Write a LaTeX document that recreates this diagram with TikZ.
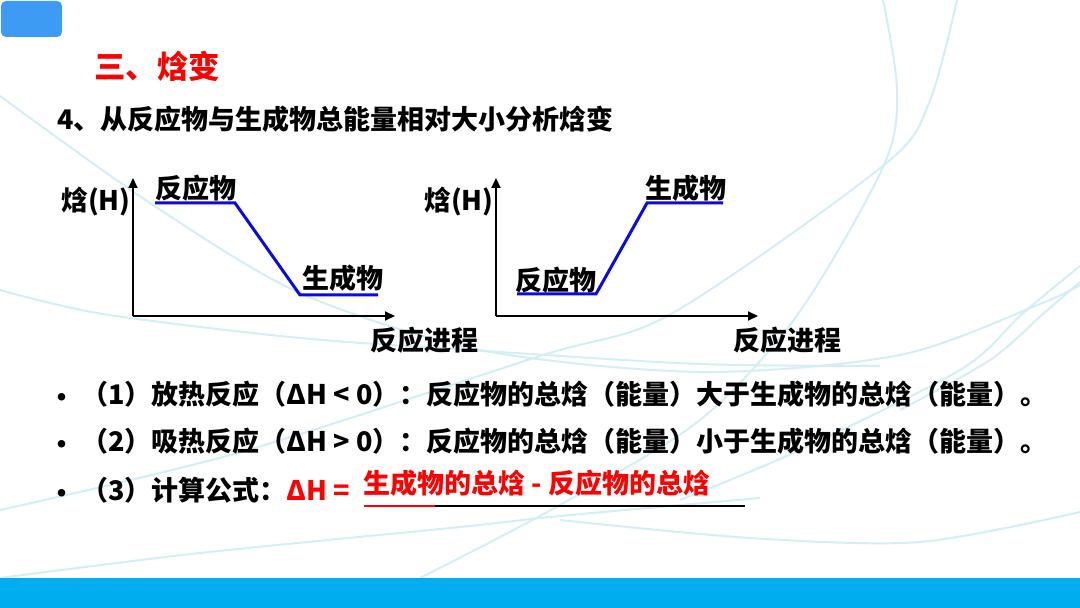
\documentclass[tikz,border=0pt]{standalone}
\usepackage{fontspec}
\setmainfont{Noto Sans CJK SC}
\usepackage{tikz}
\usetikzlibrary{arrows.meta, positioning}

\definecolor{tabblue}{HTML}{3D9BF3}
\definecolor{barblue}{HTML}{00AEEF}
\definecolor{arcline}{HTML}{D4EEF6}
\definecolor{levelblue}{HTML}{0A0AE6}

\begin{document}
\begin{tikzpicture}[
      x=0.5pt, y=-0.5pt,
      txt/.style={font=\fontsize{13.5}{16}\selectfont\bfseries, inner sep=0pt},
      ttl/.style={font=\fontsize{15.75}{19}\selectfont\bfseries, text=red, inner sep=0pt},
      level/.style={levelblue, line width=1.5pt},
      axis/.style={black, line width=1pt, -{Triangle[length=5pt, width=4.5pt]}},
      bg_arc/.style={arcline, line width=1pt}
  ]

  % 1. Sfondo
  \useasboundingbox (0, 0) rectangle (1080, 608);
  \fill[white] (0, 0) rectangle (1080, 608);

  % 2. Archi decorativi
  \draw[bg_arc] plot[smooth] coordinates {(883, 0) (897, 90) (884, 165) (798, 314) (700, 420) (560, 505) (420, 578)};
  \draw[bg_arc] plot[smooth] coordinates {(957, 0) (929, 103) (884, 165) (671, 314) (540, 356) (241, 452) (0, 510)};
  \draw[bg_arc] plot[smooth] coordinates {(0, 96) (150, 203) (300, 293) (480, 350) (700, 372) (900, 355) (1040, 304) (1080, 285)};
  \draw[bg_arc] plot[smooth] coordinates {(0, 290) (103, 314) (300, 338) (500, 352) (700, 364) (880, 366)};
  \draw[bg_arc] plot[smooth] coordinates {(0, 578) (200, 553) (460, 527) (560, 516) (760, 498)};
  \draw[bg_arc] plot[smooth] coordinates {(560, 520) (750, 538) (920, 542) (1080, 512)};
  \draw[bg_arc] plot[smooth] coordinates {(1080, 266) (1022, 314) (960, 370) (793, 453) (680, 500)};
  \draw[bg_arc] plot[smooth] coordinates {(1080, 282) (1043, 314) (990, 360) (900, 410)};

  % 3. Barra in basso e linguetta
  \fill[barblue] (0, 578) rectangle (1080, 608);
  \fill[tabblue, rounded corners=2.5pt] (1, 1) rectangle (62, 37);

  % 4. Titoli
  \node[ttl, anchor=west] (title) at (94, 66) {三、焓变};
  \node[txt, anchor=west] (subtitle) at (57, 119) {4、从反应物与生成物总能量相对大小分析焓变};

  % 5. Assi dei due grafici
  \foreach \dx/\nm in {0/l, 363/r} {
    \draw[axis] ({133+\dx}, 316) -- ({133+\dx}, 178);
    \draw[axis] ({133+\dx}, 316) -- ({395+\dx}, 316);
    \node[txt, anchor=east] (h\nm) at ({131+\dx}, 202) {焓(H)};
    \node[txt] (prog\nm) at ({424+\dx}, 340) {反应进程};
  }

  % 6. Livelli di energia
  \draw[level] (155, 203) -- (235, 203) -- (300, 295) -- (378, 295);
  \node[txt] (reac_l) at (196, 188) {反应物};
  \node[txt] (prod_l) at (343, 278) {生成物};

  \draw[level] (517, 294) -- (596, 294) -- (647, 203) -- (723, 203);
  \node[txt] (reac_r) at (556, 280) {反应物};
  \node[txt] (prod_r) at (686, 188) {生成物};

  % 7. Elenco puntato
  \foreach \y/\nm in {394/1, 441/2, 490/3}
    \node[txt] (dot\nm) at (62, {\y+6}) {•};
  \node[txt, anchor=west] (item1) at (81, 394)
    {（1）放热反应（ΔH < 0）：反应物的总焓（能量）大于生成物的总焓（能量）。};
  \node[txt, anchor=west] (item2) at (81, 441)
    {（2）吸热反应（ΔH > 0）：反应物的总焓（能量）小于生成物的总焓（能量）。};
  \node[txt, anchor=west] (item3) at (81, 490) {（3）计算公式：\textcolor{red}{ΔH =}};
  \node[txt, text=red, anchor=west] (formula) at (363, 483) {生成物的总焓 - 反应物的总焓};

  % 8. Sottolineatura
  \draw[red, line width=1pt] (364, 506) -- (435, 506);
  \draw[black, line width=1pt] (435, 506) -- (745, 506);

\end{tikzpicture}
\end{document}
